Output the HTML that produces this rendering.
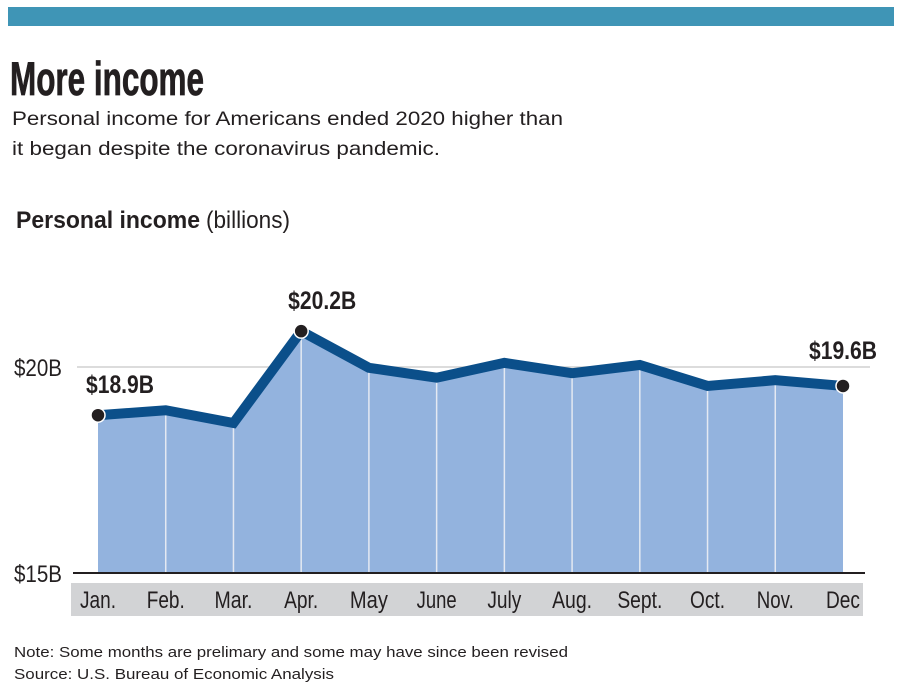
<!DOCTYPE html>
<html><head><meta charset="utf-8"><style>
html,body{margin:0;padding:0;background:#fff;width:900px;height:689px;overflow:hidden}
svg{display:block}
.c{font-family:"Liberation Sans Narrow","Liberation Sans",sans-serif}
.s{font-family:"Liberation Sans",sans-serif}
</style></head><body>
<svg id="chart" width="900" height="689" viewBox="0 0 900 689">
<rect x="8" y="7" width="886" height="19" fill="#3f95b6"/>
<text x="10" y="95" class="c" font-weight="bold" font-size="47" fill="#231f20" stroke="#231f20" stroke-width="0.8" textLength="194" lengthAdjust="spacingAndGlyphs">More income</text>
<text x="12" y="125" class="s" font-size="19.5" fill="#231f20" textLength="551" lengthAdjust="spacingAndGlyphs">Personal income for Americans ended 2020 higher than</text>
<text x="12" y="155" class="s" font-size="19.5" fill="#231f20" textLength="428" lengthAdjust="spacingAndGlyphs">it began despite the coronavirus pandemic.</text>
<text x="16" y="228" class="c" font-size="24" fill="#231f20"><tspan font-weight="bold" textLength="184" lengthAdjust="spacingAndGlyphs">Personal income</tspan><tspan x="206" textLength="84" lengthAdjust="spacingAndGlyphs">(billions)</tspan></text>
<rect x="71" y="583" width="792" height="33" fill="#d2d3d5"/>
<g id="plot"></g>
<text x="14" y="657" class="s" font-size="15" fill="#231f20" textLength="554" lengthAdjust="spacingAndGlyphs">Note: Some months are prelimary and some may have since been revised</text>
<text x="14" y="679" class="s" font-size="15" fill="#231f20" textLength="320" lengthAdjust="spacingAndGlyphs">Source: U.S. Bureau of Economic Analysis</text>
</svg>
<script>
const months = ["Jan.","Feb.","Mar.","Apr.","May","June","July","Aug.","Sept.","Oct.","Nov.","Dec"];
const values = [18.83,18.95,18.64,20.87,19.98,19.74,20.1,19.85,20.05,19.54,19.68,19.54];
const labels = ["$18.9B","","","$20.2B","","","","","","","","$19.6B"];
const yTicks = [15,20];
const yTickLabels = ["$15B","$20B"];
const monthWidths = [36,38,38,34,38,40,34,40,45,35,37,34];
const NS="http://www.w3.org/2000/svg";
const g=document.getElementById('plot');
const x0=98,x1=843,yBase=573,yTop=367;
function xs(i){return x0+(x1-x0)*i/(months.length-1);}
function ys(v){return yBase-(v-15)*(yBase-yTop)/5;}
function mk(t,a){const e=document.createElementNS(NS,t);for(const k in a)e.setAttribute(k,a[k]);g.appendChild(e);return e;}
yTicks.forEach((t,i)=>{
  if(t!==15){const l=mk('line',{x1:77,x2:870,y1:ys(t),y2:ys(t),stroke:'#d0d0d0','stroke-width':1.5});
  
  }
  const tx=mk('text',{x:14,y:ys(t)+9,'font-size':24,fill:'#231f20',class:'c',textLength:48,lengthAdjust:'spacingAndGlyphs'});
  tx.textContent=yTickLabels[i];
  
  
});
let d='M'+xs(0)+','+yBase;
values.forEach((v,i)=>{d+=' L'+xs(i)+','+ys(v);});
d+=' L'+xs(values.length-1)+','+yBase+' Z';
const area=mk('path',{d:d,fill:'#93b3de'});


values.forEach((v,i)=>{
  if(i>0&&i<values.length-1){const l=mk('line',{x1:xs(i),x2:xs(i),y1:ys(v),y2:yBase,stroke:'#e4e9f2','stroke-width':1.5});
  
  }
});
const ax=mk('line',{x1:73,x2:865,y1:yBase,y2:yBase,stroke:'#231f20','stroke-width':2});


let pd='';
values.forEach((v,i)=>{pd+=(i?' L':'M')+xs(i)+','+ys(v);});
const ln=mk('path',{d:pd,fill:'none',stroke:'#0b4f8a','stroke-width':10,'stroke-linejoin':'miter'});


values.forEach((v,i)=>{
  if(labels[i]){
    const c=mk('circle',{cx:xs(i),cy:ys(v),r:7,fill:'#231f20',stroke:'#fff','stroke-width':1.5});
    
    
    const lx = i===0 ? xs(i)+22 : (i===values.length-1 ? xs(i) : xs(i)+21);
    const ly = i===values.length-1 ? ys(v)-27 : ys(v)-22;
    const t=mk('text',{x:lx,y:ly,'text-anchor':'middle','font-size':25,'font-weight':'bold',fill:'#231f20',class:'c',textLength:68,lengthAdjust:'spacingAndGlyphs'});
    t.textContent=labels[i];
    
    
  }
});
months.forEach((m,i)=>{
  const t=mk('text',{x:xs(i),y:608,'text-anchor':'middle','font-size':24,fill:'#231f20',class:'c',textLength:monthWidths[i],lengthAdjust:'spacingAndGlyphs'});
  t.textContent=m;
  
  
});
</script>
</body></html>
